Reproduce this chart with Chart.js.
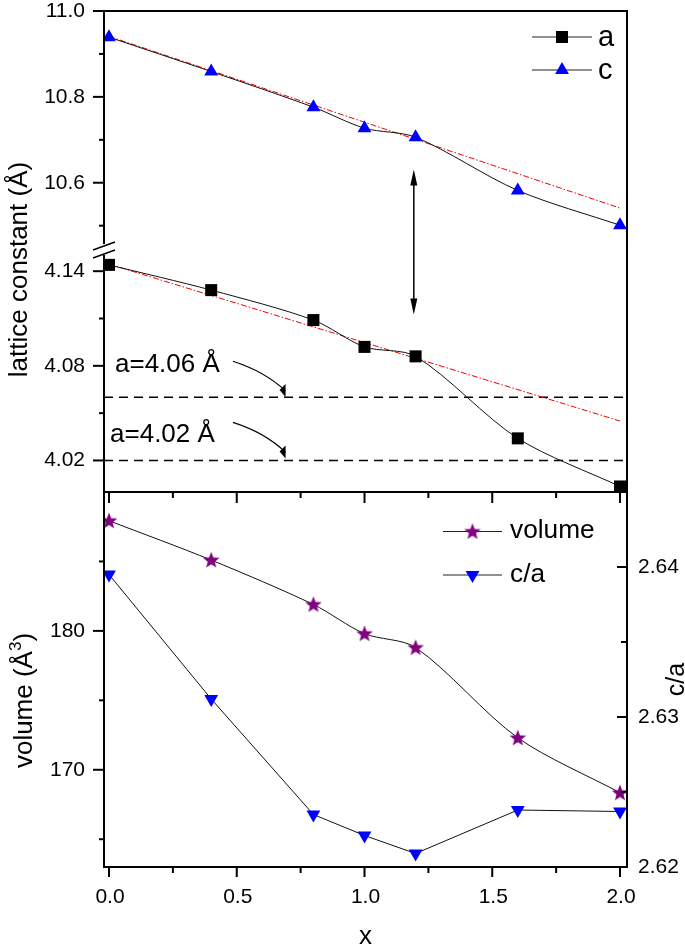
<!DOCTYPE html>
<html><head><meta charset="utf-8">
<script src="https://cdn.jsdelivr.net/npm/chart.js@4.4.0/dist/chart.umd.min.js"></script>
<style>html,body{margin:0;padding:0;background:#fff;}canvas{display:block;}</style>
</head><body>
<canvas id="c" width="685" height="947"></canvas>
<script>
// ---------- data ----------
const xValues      = [0, 0.4, 0.8, 1.0, 1.2, 1.6, 2.0];
const cValues      = [10.939, 10.859, 10.776, 10.727, 10.706, 10.582, 10.501];
const aValues      = [4.144, 4.128, 4.109, 4.092, 4.086, 4.034, 4.0035];
const volumeValues = [187.93, 185.1, 181.9, 179.8, 178.8, 172.3, 168.35];
const caValues     = [2.6395, 2.6312, 2.6235, 2.6221, 2.6209, 2.6238, 2.6237];
const fitX         = [0, 2.0];
const fitCValues   = [10.941, 10.541];
const fitAValues   = [4.1445, 4.045];
const refLevels    = [4.06, 4.02];
const refLabels    = ['a=4.06 Å', 'a=4.02 Å'];
const seriesNames  = ['a', 'c', 'volume', 'c/a'];
const xTicks  = [0, 0.5, 1.0, 1.5, 2.0];   const xMinor  = [0.25, 0.75, 1.25, 1.75];
const cTicks  = [10.6, 10.8, 11.0];        const cMinor  = [10.5, 10.7, 10.9];
const aTicks  = [4.02, 4.08, 4.14];        const aMinor  = [4.05, 4.11];
const vTicks  = [170, 180];                const vMinor  = [165, 175, 185];
const caTicks = [2.62, 2.63, 2.64];        const caMinor = [2.625, 2.635];
const X_MIN = -0.0196, X_MAX = 2.0274;

const pts = (xs, ys) => xs.map((x, i) => ({x, y: ys[i]}));

// star marker
function makeStar(color, size) {
  const cv = document.createElement('canvas');
  cv.width = size; cv.height = size;
  const g = cv.getContext('2d');
  const cx = size / 2, cy = size / 2 + 0.5, R = size / 2 - 0.3, r = R * 0.42;
  g.beginPath();
  for (let i = 0; i < 10; i++) {
    const ang = -Math.PI / 2 + i * Math.PI / 5;
    const rad = i % 2 ? r : R;
    g.lineTo(cx + rad * Math.cos(ang), cy + rad * Math.sin(ang));
  }
  g.closePath(); g.fillStyle = color; g.fill();
  return cv;
}
const starImg = makeStar('#800080', 18);

function txt(ctx, s, x, y, o) {
  ctx.save();
  ctx.translate(x, y);
  if (o.rot) ctx.rotate(o.rot);
  if (o.sx) ctx.scale(o.sx, 1);
  ctx.font = o.font; ctx.textAlign = o.align || 'left'; ctx.textBaseline = o.base || 'alphabetic';
  ctx.fillStyle = '#000';
  ctx.fillText(s, 0, 0);
  ctx.restore();
}
function seg(ctx, x1, y1, x2, y2) { ctx.beginPath(); ctx.moveTo(x1, y1); ctx.lineTo(x2, y2); ctx.stroke(); }
function marker(ctx, kind, x, y) {
  ctx.save();
  if (kind === 'square') { ctx.fillStyle = '#000'; ctx.fillRect(x - 6, y - 6, 12, 12); }
  else if (kind === 'up' || kind === 'down') {
    const s = kind === 'up' ? 1 : -1;
    ctx.fillStyle = '#0000ff'; ctx.beginPath();
    ctx.moveTo(x, y - 8 * s); ctx.lineTo(x + 6.93, y + 4 * s); ctx.lineTo(x - 6.93, y + 4 * s);
    ctx.closePath(); ctx.fill();
  } else if (kind === 'star') { ctx.drawImage(starImg, x - 9, y - 9); }
  ctx.restore();
}

const hidden = {grid: {display: false}, border: {display: false}, ticks: {display: false}, title: {display: false}};

const decor = {
  id: 'decor',
  afterDraw(chart) {
    const {ctx, chartArea: A, scales: S} = chart;
    const X = S.x, yC = S.yC, yA = S.yA, yV = S.yVol, yR = S.yCA;
    const L = A.left, R = A.right, T = A.top, B = A.bottom;
    const mid = yV.top, brk = yA.top;
    ctx.save();
    ctx.strokeStyle = '#000'; ctx.fillStyle = '#000';
    // frame
    ctx.lineWidth = 2;
    seg(ctx, L - 1, T, R + 1, T); seg(ctx, R, T, R, B + 1); seg(ctx, L - 1, B, R + 1, B);
    seg(ctx, L - 1, mid, R + 1, mid);
    seg(ctx, L, T, L, brk - 4); seg(ctx, L, brk + 7, L, B + 1);
    // break marks
    ctx.lineWidth = 1.6;
    seg(ctx, L - 11, brk + 2, L + 11, brk - 6);
    seg(ctx, L - 11, brk + 10, L + 11, brk + 2);
    // ticks
    ctx.lineWidth = 2;
    const lt = (sc, maj, min) => {
      maj.forEach(v => { const y = sc.getPixelForValue(v); seg(ctx, L - 11, y, L, y); });
      min.forEach(v => { const y = sc.getPixelForValue(v); seg(ctx, L - 5, y, L, y); });
    };
    lt(yC, cTicks, cMinor); lt(yA, aTicks, aMinor); lt(yV, vTicks, vMinor);
    caTicks.forEach(v => { const y = yR.getPixelForValue(v); seg(ctx, R - 10, y, R, y); });
    caMinor.forEach(v => { const y = yR.getPixelForValue(v); seg(ctx, R - 6, y, R, y); });
    xTicks.forEach(v => { const x = X.getPixelForValue(v); seg(ctx, x, B, x, B + 10); seg(ctx, x, mid, x, mid + 11); });
    xMinor.forEach(v => { const x = X.getPixelForValue(v); seg(ctx, x, B, x, B + 6); seg(ctx, x, mid, x, mid + 6); });
    // tick labels
    const tf = '21px "Liberation Sans", Arial, sans-serif';
    cTicks.forEach(v => txt(ctx, v.toFixed(1), L - 19, yC.getPixelForValue(v), {font: tf, align: 'right', base: 'middle'}));
    aTicks.forEach(v => txt(ctx, v.toFixed(2), L - 19, yA.getPixelForValue(v), {font: tf, align: 'right', base: 'middle'}));
    vTicks.forEach(v => txt(ctx, String(v), L - 19, yV.getPixelForValue(v), {font: tf, align: 'right', base: 'middle'}));
    caTicks.forEach(v => txt(ctx, v.toFixed(2), R + 11, yR.getPixelForValue(v), {font: tf, align: 'left', base: 'middle'}));
    xTicks.forEach(v => txt(ctx, v.toFixed(1), X.getPixelForValue(v) + 1, B + 36, {font: tf, align: 'center'}));
    // axis titles
    const tt = '26px "Liberation Sans", Arial, sans-serif';
    txt(ctx, 'lattice constant (Å)', 27, (T + mid) / 2 + 18, {font: tt, align: 'center', rot: -Math.PI / 2});
    txt(ctx, 'x', X.getPixelForValue(1.0) + 1, 944, {font: tt, align: 'center'});
    txt(ctx, 'c/a', 684, yR.getPixelForValue(2.6325), {font: '25px "Liberation Sans", Arial, sans-serif', align: 'center', rot: -Math.PI / 2});
    // volume (Å³) with superscript
    ctx.save();
    ctx.translate(32, (mid + B) / 2 + 21); ctx.rotate(-Math.PI / 2);
    ctx.font = tt;
    const p1 = 'volume (Å', p3 = ')';
    const w1 = ctx.measureText(p1).width, w3 = ctx.measureText(p3).width;
    ctx.font = '17px "Liberation Sans", Arial, sans-serif';
    const w2 = ctx.measureText('3').width;
    const tot = w1 + w2 + w3;
    let px = -tot / 2;
    ctx.textBaseline = 'alphabetic'; ctx.textAlign = 'left';
    ctx.font = tt; ctx.fillText(p1, px, 0); px += w1;
    ctx.font = '17px "Liberation Sans", Arial, sans-serif'; ctx.fillText('3', px, -11); px += w2;
    ctx.font = tt; ctx.fillText(p3, px, 0);
    ctx.restore();
    // annotations
    const af = '25px "Liberation Sans", Arial, sans-serif';
    const labelPos = [[0.0235, 4.0761], [0.004, 4.032]];
    const arrowPos = [[[0.485, 4.0829], [0.611, 4.0763], [0.691, 4.0603]],
                      [[0.485, 4.0441], [0.611, 4.0376], [0.691, 4.0213]]];
    refLabels.forEach((s, i) => txt(ctx, s, X.getPixelForValue(labelPos[i][0]), yA.getPixelForValue(labelPos[i][1]), {font: af, sx: 1.04}));
    ctx.lineWidth = 1.2;
    arrowPos.forEach(ap => {
      const P = ap.map(p => [X.getPixelForValue(p[0]), yA.getPixelForValue(p[1])]);
      ctx.beginPath(); ctx.moveTo(P[0][0], P[0][1]);
      ctx.quadraticCurveTo(P[1][0], P[1][1], P[2][0], P[2][1] - 6); ctx.stroke();
      ctx.beginPath(); ctx.moveTo(P[2][0], P[2][1]); ctx.lineTo(P[2][0], P[2][1] - 13); ctx.lineTo(P[2][0] - 6, P[2][1] - 7);
      ctx.closePath(); ctx.fill();
    });
    // double arrow
    const ax = X.getPixelForValue(1.193), ay1 = yC.getPixelForValue(10.631), ay2 = yA.getPixelForValue(4.1125);
    ctx.lineWidth = 1.5;
    seg(ctx, ax, ay1 + 8, ax, ay2 - 8);
    ctx.beginPath(); ctx.moveTo(ax, ay1); ctx.lineTo(ax + 3.5, ay1 + 16); ctx.lineTo(ax - 3.5, ay1 + 16); ctx.closePath(); ctx.fill();
    ctx.beginPath(); ctx.moveTo(ax, ay2); ctx.lineTo(ax + 3.5, ay2 - 16); ctx.lineTo(ax - 3.5, ay2 - 16); ctx.closePath(); ctx.fill();
    // legends
    const lf = '29px "Liberation Sans", Arial, sans-serif';
    ctx.lineWidth = 1; ctx.strokeStyle = '#222';
    [[37, 'square', seriesNames[0]], [70, 'up', seriesNames[1]]].forEach(([y, k, s]) => {
      seg(ctx, 532, y, 592, y); marker(ctx, k, 562, y); txt(ctx, s, 598, y + 1, {font: lf, base: 'middle', sx: 1.0});
    });
    [[531.5, 'star', seriesNames[2]], [575, 'down', seriesNames[3]]].forEach(([y, k, s]) => {
      seg(ctx, 443, y, 502, y); marker(ctx, k, 472.5, y); txt(ctx, s, 510, y, {font: '25px "Liberation Sans", Arial, sans-serif', base: 'middle', sx: 1.05});
    });
    ctx.restore();
  }
};

new Chart(document.getElementById('c'), {
  type: 'scatter',
  data: {
    datasets: [
      {label: 'c', data: pts(xValues, cValues), yAxisID: 'yC', showLine: true, tension: 0.3,
       borderColor: '#111', borderWidth: 1, pointStyle: 'triangle', pointRadius: 8,
       pointBackgroundColor: '#0000ff', pointBorderColor: '#0000ff', pointBorderWidth: 0, order: 1},
      {label: 'a', data: pts(xValues, aValues), yAxisID: 'yA', showLine: true, tension: 0.3,
       borderColor: '#111', borderWidth: 1, pointStyle: 'rect', pointRadius: 8.5,
       pointBackgroundColor: '#000', pointBorderColor: '#000', pointBorderWidth: 0, order: 1},
      {label: 'fit c', data: pts(fitX, fitCValues), yAxisID: 'yC', showLine: true, borderColor: '#ee0000',
       borderWidth: 1, borderDash: [6, 2, 1.5, 2], pointRadius: 0, order: 2},
      {label: 'fit a', data: pts(fitX, fitAValues), yAxisID: 'yA', showLine: true, borderColor: '#ee0000',
       borderWidth: 1, borderDash: [6, 2, 1.5, 2], pointRadius: 0, order: 2},
      {label: refLabels[0], data: pts([X_MIN, X_MAX], [refLevels[0], refLevels[0]]), yAxisID: 'yA', showLine: true,
       borderColor: '#000', borderWidth: 1.5, borderDash: [9, 6], pointRadius: 0, order: 3},
      {label: refLabels[1], data: pts([X_MIN, X_MAX], [refLevels[1], refLevels[1]]), yAxisID: 'yA', showLine: true,
       borderColor: '#000', borderWidth: 1.5, borderDash: [9, 6], pointRadius: 0, order: 3},
      {label: 'volume', data: pts(xValues, volumeValues), yAxisID: 'yVol', showLine: true, tension: 0.3,
       borderColor: '#111', borderWidth: 1, pointStyle: starImg, pointRadius: 9, order: 1},
      {label: 'c/a', data: pts(xValues, caValues), yAxisID: 'yCA', showLine: true, tension: 0,
       borderColor: '#111', borderWidth: 1, pointStyle: 'triangle', rotation: 180, pointRotation: 180, pointRadius: 8,
       pointBackgroundColor: '#0000ff', pointBorderColor: '#0000ff', pointBorderWidth: 0, order: 1}
    ]
  },
  options: {
    responsive: false, animation: false, devicePixelRatio: 1,
    layout: {padding: {top: 11, left: 0, right: 0, bottom: 0}},
    plugins: {legend: {display: false}, tooltip: {enabled: false}},
    scales: {
      x: {type: 'linear', position: 'bottom', min: X_MIN, max: X_MAX, ...hidden, afterFit(s) { s.height = 80; }},
      yC: {type: 'linear', position: 'left', stack: 'L', stackWeight: 237, weight: 3, min: 10.448, max: 11.0, ...hidden, afterFit(s) { s.width = 104; }},
      yA: {type: 'linear', position: 'left', stack: 'L', stackWeight: 244, weight: 2, min: 4.0, max: 4.1547, ...hidden, afterFit(s) { s.width = 104; }},
      yVol: {type: 'linear', position: 'left', stack: 'L', stackWeight: 375, weight: 1, min: 163, max: 190, ...hidden, afterFit(s) { s.width = 104; }},
      yPad: {type: 'linear', position: 'right', stack: 'R', stackWeight: 481, weight: 1, min: 0, max: 1, ...hidden, afterFit(s) { s.width = 58; }},
      yCA: {type: 'linear', position: 'right', stack: 'R', stackWeight: 375, weight: 2, min: 2.62, max: 2.645, ...hidden, afterFit(s) { s.width = 58; }}
    }
  },
  plugins: [decor]
});
</script>
</body></html>
